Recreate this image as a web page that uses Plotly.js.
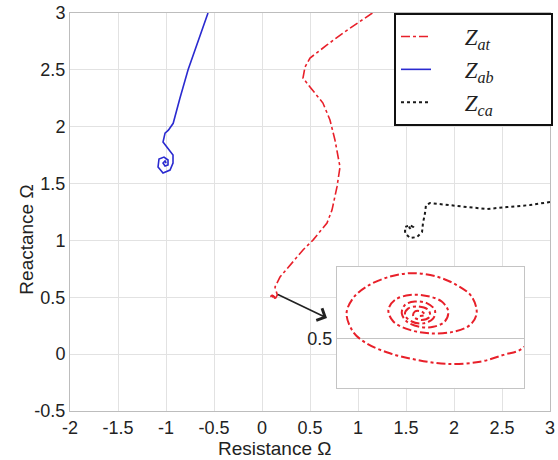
<!DOCTYPE html>
<html><head><meta charset="utf-8">
<script src="https://cdn.plot.ly/plotly-3.0.1.min.js"></script>
<style>html,body{margin:0;padding:0;background:#fff}</style>
</head><body><div id="chart" style="width:558px;height:460px"></div>
<script>
// Z_at: resistance / reactance (dash-dot red), ends in a small spiral
const zatR = [1.15,0.844,0.677,0.5,0.448,0.427,0.5,0.635,0.708,0.760,0.8125,0.781,0.729,0.677,0.531,0.427,0.1875,0.135,0.16,
  0.1501,0.1434,0.1359,0.1252,0.1156,0.1070,0.0995,0.0952,0.0931,0.0952,0.0995,0.1070,0.1145,0.1220,0.1284,0.1332,0.1348,0.1327,0.1273,0.1198,0.1134,0.1081,0.1065,0.1086,0.1134,0.1188,0.1236,0.1257,0.1246,0.1209,0.1166,0.1124,0.1108,0.1118,0.1150,0.1188,0.1214,0.1209,0.1177,0.1140,0.1118,0.1129,0.1161,0.1193,0.1198,0.1172,0.1145,0.1150,0.1172,0.1182,0.1166];
const zatX = [3.0,2.824,2.719,2.604,2.525,2.428,2.349,2.208,2.059,1.883,1.646,1.470,1.267,1.153,1.003,0.916,0.678,0.590,0.52,
  0.4975,0.4949,0.4927,0.4920,0.4933,0.4954,0.4986,0.5023,0.5082,0.5131,0.5168,0.5200,0.5211,0.5200,0.5173,0.5136,0.5082,0.5045,0.5023,0.5018,0.5029,0.5056,0.5093,0.5125,0.5141,0.5138,0.5120,0.5088,0.5056,0.5039,0.5039,0.5056,0.5082,0.5109,0.5120,0.5115,0.5093,0.5066,0.5050,0.5056,0.5077,0.5098,0.5104,0.5093,0.5072,0.5061,0.5072,0.5088,0.5088,0.5077,0.5074];
// Z_ab (solid blue)
const zabR = [-0.5625,-0.665,-0.77,-0.855,-0.925,-0.975,-1.010,-1.031,-0.990,-0.927,-0.927,-0.958,-1.031,-1.083,-1.073,-1.021,-0.979,-0.979,-1.010,-1.031,-1.010,-1.0];
const zabX = [3.0,2.75,2.5,2.25,2.03,1.97,1.944,1.865,1.821,1.751,1.681,1.619,1.593,1.646,1.716,1.733,1.707,1.663,1.654,1.681,1.70,1.68];
// Z_ca (dotted black)
const zcaR = [3.0,2.792,2.552,2.344,2.135,1.927,1.75,1.708,1.698,1.677,1.667,1.615,1.542,1.490,1.490,1.542,1.573,1.55,1.53,1.55];
const zcaX = [1.338,1.311,1.294,1.276,1.294,1.311,1.329,1.311,1.241,1.153,1.074,1.030,1.021,1.065,1.118,1.135,1.118,1.10,1.118,1.11];
// tick labels
const xTicks = [-2,-1.5,-1,-0.5,0,0.5,1,1.5,2,2.5,3];
const xTickText = ['-2','-1.5','-1','-0.5','0','0.5','1','1.5','2','2.5','3'];
const yTicks = [-0.5,0,0.5,1,1.5,2,2.5,3];
const yTickText = ['-0.5','0','0.5','1','1.5','2','2.5','3'];
const insetYTicks = [0.5];
const insetYTickText = ['0.5'];
const names = ['<i>Z</i><sub><i>at</i></sub>','<i>Z</i><sub><i>ab</i></sub>','<i>Z</i><sub><i>ca</i></sub>'];

const pre = '&nbsp;'.repeat(5), post = '&nbsp;'.repeat(9);
const red = '#e8202a', blue = '#2a2ad0', black = '#1a1a1a';
const traces = [
  {x: zatR, y: zatX, mode:'lines', name:pre+names[0]+post, line:{color:red, dash:'dashdot', width:1.6}, xaxis:'x', yaxis:'y'},
  {x: zabR, y: zabX, mode:'lines', name:pre+names[1]+post, line:{color:blue, width:1.6}, xaxis:'x', yaxis:'y'},
  {x: zcaR, y: zcaX, mode:'lines', name:pre+names[2]+post, line:{color:black, dash:'dot', width:2}, xaxis:'x', yaxis:'y'},
  {x: zatR, y: zatX, mode:'lines', showlegend:false, line:{color:red, dash:'dashdot', width:2, shape:'spline'}, xaxis:'x2', yaxis:'y2'}
];
const tickFont = {family:'Liberation Sans, Arial, sans-serif', size:18, color:'#222'};
const layout = {
  width:558, height:460,
  margin:{l:70, r:8, t:13, b:49, autoexpand:false},
  paper_bgcolor:'#fff', plot_bgcolor:'#fff',
  showlegend:true,
  legend:{x:0.675, y:1, xanchor:'left', yanchor:'top', bgcolor:'#fff', bordercolor:'#111', borderwidth:2,
    font:{family:'Liberation Serif, Times New Roman, serif', size:23, color:'#222'}, itemwidth:30},
  xaxis:{domain:[0,1], range:[-2,3], tickvals:xTicks, ticktext:xTickText, showgrid:true, gridcolor:'#e2e2e2',
    showline:true, mirror:true, linecolor:'#bdbdbd', zeroline:false, ticks:'', tickfont:tickFont, anchor:'y'},
  yaxis:{domain:[0,1], range:[-0.5,3], tickvals:yTicks, ticktext:yTickText, showgrid:true, gridcolor:'#e2e2e2',
    showline:true, mirror:true, linecolor:'#bdbdbd', zeroline:false, ticks:'', tickfont:tickFont, anchor:'x'},
  xaxis2:{domain:[0.556,0.946], range:[0.09,0.15], anchor:'y2', showticklabels:false, showgrid:false,
    showline:true, mirror:true, linecolor:'#c4c4c4', zeroline:false, ticks:''},
  yaxis2:{domain:[0.058,0.362], range:[0.4843,0.5231], anchor:'x2', tickvals:insetYTicks, ticktext:insetYTickText,
    showgrid:true, gridcolor:'#c4c4c4', showline:true, mirror:true, linecolor:'#c4c4c4', zeroline:false, ticks:'', tickfont:tickFont},
  annotations:[
    {x:0.677, y:0.317, ax:0.15, ay:0.53, xref:'x', yref:'y', axref:'x', ayref:'y', text:'', showarrow:true,
      arrowhead:4, arrowsize:1.6, arrowwidth:1.6, arrowcolor:'#222'},
    {x:0.427, y:-0.095, xref:'paper', yref:'paper', text:'Resistance Ω', showarrow:false, xanchor:'center', yanchor:'middle',
      font:{family:'Liberation Sans, Arial, sans-serif', size:19, color:'#222'}},
    {x:-0.09, y:0.43, xref:'paper', yref:'paper', text:'Reactance Ω', showarrow:false, textangle:-90, xanchor:'center', yanchor:'middle',
      font:{family:'Liberation Sans, Arial, sans-serif', size:19, color:'#222'}}
  ]
};
Plotly.newPlot('chart', traces, layout, {staticPlot:true});
</script></body></html>
